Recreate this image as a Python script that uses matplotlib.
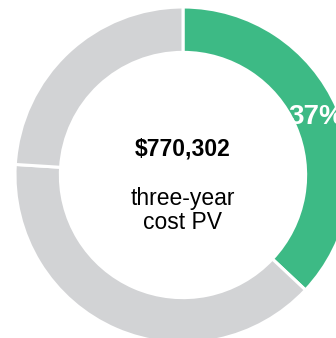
import matplotlib.pyplot as plt

# slice shares (clockwise from 12 o'clock)
shares = [37, 39, 24]
colors = ['#3dba85', '#d2d3d5', '#d2d3d5']
total_text = '$770,302'
sub_text = 'three-year\ncost PV'

plt.rcParams['font.family'] = ['Liberation Sans', 'DejaVu Sans']

fig = plt.figure(figsize=(3.36, 3.38), dpi=100)
ax = fig.add_axes([0, 0, 1, 1])

def show_pct(p):
    # only the highlighted slice gets a label
    return '%d%%' % round(p) if abs(p - shares[0]) < 0.5 else ''

wedges, texts, autotexts = ax.pie(
    shares, colors=colors, startangle=90, counterclock=False,
    radius=1, autopct=show_pct, pctdistance=0.866,
    wedgeprops=dict(width=0.27, edgecolor='white', linewidth=2.2),
    textprops=dict(color='white', fontsize=20, fontweight='bold'))

ax.text(0, 0.155, total_text, ha='center', va='center',
        fontsize=16.5, fontweight='bold', color='black')
ax.text(0, -0.21, sub_text, ha='center', va='center',
        fontsize=16.5, color='black', linespacing=1.05)

# pie centre sits at pixel (183,175), outer radius 168 px
px = 168.0
ax.set_aspect('auto')
ax.set_xlim(-183 / px, (336 - 183) / px)
ax.set_ylim(-(338 - 175) / px, 175 / px)
ax.axis('off')

fig.savefig('out.png', dpi=100)
